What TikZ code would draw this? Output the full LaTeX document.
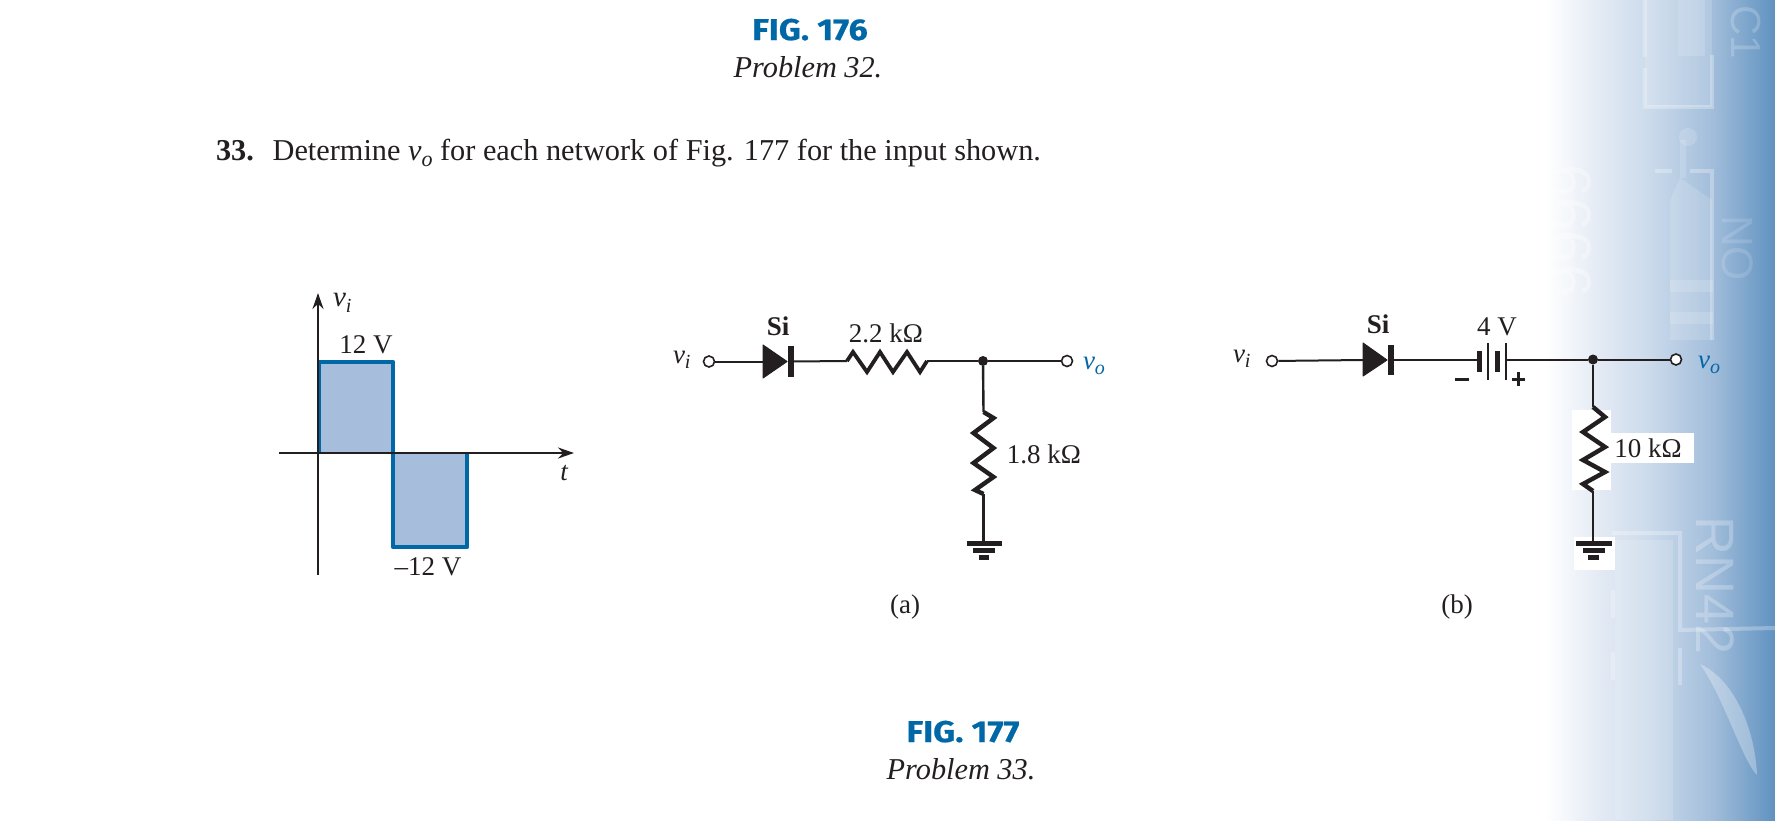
\documentclass[tikz,border=0pt]{standalone}
\usepackage{fontspec}
\setmainfont{Liberation Serif}
\newfontfamily\figfont[FakeStretch=1.14,FakeBold=0.6]{Fira Sans Bold}
\newfontfamily\pcbfont{Liberation Sans}
\usetikzlibrary{arrows.meta}
\definecolor{figblue}{HTML}{0068A6}
\definecolor{wavefill}{HTML}{A6BEDB}
\definecolor{ink}{HTML}{231F20}
\definecolor{bgA}{HTML}{E3EAF4}
\definecolor{bgB}{HTML}{CBDAEB}
\definecolor{bgC}{HTML}{A3BEDB}
\definecolor{bgD}{HTML}{6092C0}
\pgfdeclarehorizontalshading{pcbshade}{100bp}{color(0bp)=(white);color(28bp)=(white);color(39.3bp)=(bgA);color(49.5bp)=(bgB);color(62bp)=(bgC);color(75bp)=(bgD);color(100bp)=(bgD)}
\newcommand{\vsub}[1]{\textit{v}\raisebox{-0.22em}{\fontsize{20}{21}\selectfont\textit{#1}}}
\tikzset{
  x=1pt,y=-1pt,
  txt/.style={inner sep=0pt,outer sep=0pt,anchor=base,text=ink,font=\fontsize{27}{30}\selectfont},
  txtw/.style={txt,anchor=base west},
  caption/.style={txt,font=\fontsize{30.3}{32}\selectfont\itshape},
  figlabel/.style={inner sep=0pt,anchor=base,text=figblue,font=\figfont\fontsize{30}{34}\selectfont},
  wire/.style={draw=ink,line width=2pt},
  heavy/.style={draw=ink,line width=4.4pt,line join=miter},
  term/.style={circle,draw=ink,fill=white,line width=1.6pt,inner sep=0pt,minimum size=11pt},
  junction/.style={circle,fill=ink,inner sep=0pt,minimum size=10pt},
  pcb/.style={draw=white,draw opacity=.28,line width=4pt},
  pcbfill/.style={fill=white,fill opacity=.15},
  pcbtext/.style={inner sep=0pt,text=white,text opacity=.25,rotate=-90,font=\pcbfont},
  axis/.style={draw=ink,line width=2.4pt},
  whitebox/.style={fill=white},
}
\begin{document}
\begin{tikzpicture}
\useasboundingbox (0,0) rectangle (1775,820);
\fill[white] (0,0) rectangle (1775,820);
% background board
\shade[shading=pcbshade] (1530,0) rectangle (1775,820);
\fill[pcbfill] (1645,0) rectangle (1712,107);
\fill[pcbfill] (1678,0) rectangle (1705,56);
\draw[pcb] (1645,0) -- (1645,57) (1645,68) -- (1645,107) -- (1712,107) -- (1712,55);
\fill[pcbfill] (1688,137) circle (9);
\fill[pcbfill] (1680,140) rectangle (1686,178);
\fill[pcbfill] (1680,178) -- (1712,200) -- (1712,340) -- (1670,340) -- (1670,200) -- cycle;
\draw[pcb] (1655,171) -- (1672,171) (1690,171) -- (1712,171) -- (1712,340);
\fill[pcbfill] (1670,280) rectangle (1713,292);
\fill[pcbfill] (1670,312) rectangle (1713,324);
\fill[pcbfill] (1615,540) rectangle (1673,820);
\draw[pcb] (1612,533) -- (1680,533) -- (1680,630) -- (1775,628);
\draw[pcb] (1680,648) -- (1680,685) (1613,590) -- (1613,618) (1613,652) -- (1613,680);
\fill[white,fill opacity=.3] (1700,664) .. controls (1735,680) and (1755,730) .. (1757,775) .. controls (1742,760) and (1725,700) .. (1700,664) -- cycle;
\node[pcbtext,font=\pcbfont\fontsize{54}{60}\selectfont] (rn) at (1715,586) {RN42};
\node[pcbtext,font=\pcbfont\fontsize{60}{64}\selectfont,text opacity=.32] (six) at (1570,231) {6666};
\node[pcbtext,font=\pcbfont\fontsize{42}{46}\selectfont,text opacity=.2] (cone) at (1746,32) {C1};
\node[pcbtext,font=\pcbfont\fontsize{44}{48}\selectfont,text opacity=.14] (no) at (1738,248) {NO};
% white patches
\fill[whitebox] (1572,410) rectangle (1611,490);
\fill[whitebox] (1611,433) rectangle (1694,463);
\fill[whitebox] (1574,537) rectangle (1615,570);
% captions and question
\node[figlabel] (f176) at (810,40) {FIG. 176};
\node[caption] (p32) at (808,77) {Problem 32.};
\node[txtw,font=\fontsize{30.3}{32}\selectfont] (q) at (216,160) {\textbf{33.}\hspace{0.62em}Determine \textit{v}\raisebox{-0.22em}{\fontsize{22}{23}\selectfont\textit{o}} for each network of Fig. 177 for the input shown.};
\node[figlabel] (f177) at (963,742) {FIG. 177};
\node[caption] (p33) at (961,779) {Problem 33.};
% waveform
\coordinate (o) at (318,453);
\coordinate (yb) at (318,575);
\coordinate (yt) at (318,293);
\coordinate (xl) at (279,453);
\coordinate (xr) at (574,453);
\coordinate (w1) at (319,362);
\coordinate (w2) at (393,362);
\coordinate (w3) at (393,547);
\coordinate (w4) at (467,547);
\coordinate (w5) at (467,453);
\fill[wavefill] (o) -- (w1) -- (w2) -- (393,453) -- cycle;
\fill[wavefill] (393,453) -- (w3) -- (w4) -- (w5) -- cycle;
\draw[draw=figblue,line width=4.8pt,line join=round] (319,453) -- (w1) -- (w2) -- (w3) -- (w4) -- (w5);
\draw[axis,-{Stealth[length=16pt,width=11pt]}] (yb) -- (yt);
\draw[axis,-{Stealth[length=16pt,width=11pt]}] (xl) -- (xr);
\node[txtw,font=\fontsize{29}{30}\selectfont] (wvi) at (333,306) {\vsub{i}};
\node[txt] (w12) at (366,353) {12 V};
\node[txt] (wm12) at (428,575) {–12 V};
\node[txt,font=\fontsize{27}{30}\selectfont\itshape] (wt) at (564,480) {t};
% circuit a
\node[term] (ain) at (709,361.5) {};
\node[term] (aout) at (1067,361) {};
\node[junction] (aj) at (983,361) {};
\coordinate (adl) at (763,361.5);
\coordinate (adr) at (791,361.5);
\coordinate (arl) at (847,361);
\coordinate (arr) at (927,361);
\coordinate (avt) at (983.5,412);
\coordinate (avb) at (983.5,494);
\coordinate (agnd) at (983.5,543);
\draw[wire] (ain) -- (adl);
\fill[ink,draw=ink,line width=1pt,line join=round] (763,345) -- (787,361.5) -- (763,378) -- cycle;
\fill[ink] (788,346) rectangle (794,377);
\draw[wire] (adr) -- (arl);
\draw[heavy,line width=3.8pt] (arl) -- (853,352) -- (867,372) -- (880,352) -- (893,372) -- (907,352) -- (920,372) -- (arr);
\draw[wire] (arr) -- (aj);
\draw[wire] (aj) -- (aout);
\draw[wire,line width=2.4pt] (aj) -- (avt);
\draw[heavy] (avt) -- (993.5,418) -- (973.5,433) -- (993.5,448) -- (973.5,463) -- (993.5,477) -- (975,490) -- (avb);
\draw[wire,line width=2.4pt] (avb) -- (agnd);
\fill[ink] (967,540.5) rectangle (1002,545.5);
\fill[ink] (973,547.5) rectangle (995,552.5);
\fill[ink] (979,555) rectangle (989,560);
\node[txtw] (avi) at (673,363) {\vsub{i}};
\node[txtw] (avo) at (1083,369) {\color{figblue}\vsub{o}};
\node[txt,font=\fontsize{27}{30}\selectfont\bfseries] (asi) at (778,335) {Si};
\node[txt] (ar1) at (886,342) {2.2 kΩ};
\node[txt] (ar2) at (1044,463) {1.8 kΩ};
\node[txt] (acap) at (905,613) {(a)};
% circuit b
\node[term] (bin) at (1272,361) {};
\node[term] (bout) at (1676,359.5) {};
\node[junction] (bj) at (1593,359.5) {};
\coordinate (bdl) at (1363,360);
\coordinate (bdr) at (1391,360);
\coordinate (bcl) at (1477,360);
\coordinate (bcr) at (1506,359.5);
\coordinate (bvt) at (1593,407);
\coordinate (bvb) at (1593,491);
\coordinate (bgnd) at (1593,543);
\draw[wire] (bin) -- (bdl);
\fill[ink,draw=ink,line width=1pt,line join=round] (1363,343) -- (1387,360) -- (1363,376) -- cycle;
\fill[ink] (1388,345) rectangle (1394,375);
\draw[wire] (bdr) -- (bcl);
\fill[ink] (1477,351) rectangle (1482,372);
\fill[ink] (1495,351) rectangle (1500,372);
\fill[ink] (1487,343) rectangle (1489,380);
\fill[ink] (1505,343) rectangle (1507,380);
\draw[wire] (bcr) -- (bj);
\draw[wire] (bj) -- (bout);
\draw[wire,line width=2.6pt] (bj) -- (bvt);
\draw[heavy] (bvt) -- (1605,417) -- (1583,432) -- (1605,447) -- (1583,460) -- (1605,472) -- (1583,484) -- (bvb);
\draw[wire,line width=2.6pt] (bvb) -- (bgnd);
\fill[ink] (1576,540.5) rectangle (1612,545.5);
\fill[ink] (1583,547.5) rectangle (1605,552.5);
\fill[ink] (1588,555) rectangle (1599,560);
\fill[ink] (1455,378) rectangle (1469,381);
\fill[ink] (1512,378) rectangle (1525,381);
\fill[ink] (1517,372) rectangle (1520,386);
\node[txtw] (bvi) at (1233,362) {\vsub{i}};
\node[txtw] (bvo) at (1698,368) {\color{figblue}\vsub{o}};
\node[txt,font=\fontsize{27}{30}\selectfont\bfseries] (bsi) at (1378,333) {Si};
\node[txt] (bv4) at (1497,335) {4 V};
\node[txt] (br2) at (1648,457) {10 kΩ};
\node[txt] (bcap) at (1457,613) {(b)};
\end{tikzpicture}
\end{document}
